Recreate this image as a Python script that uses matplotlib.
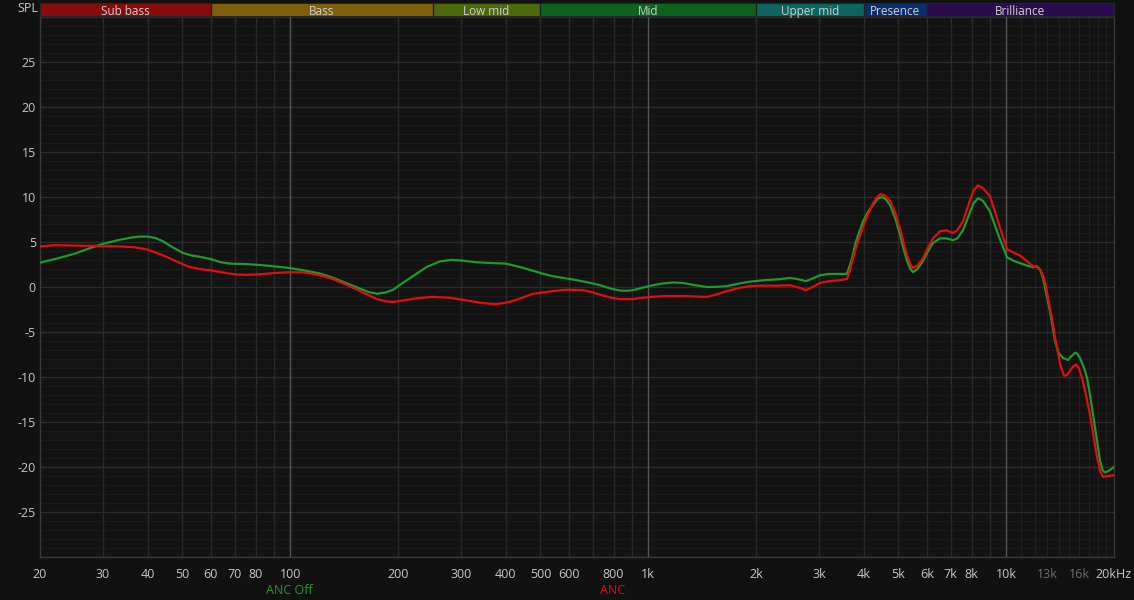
import matplotlib
matplotlib.use("Agg")
import matplotlib.pyplot as plt
import numpy as np

# ---------------- data ----------------
anc_off_freq = [20, 22.5, 25, 27.5, 30, 33, 36, 38, 40, 42, 44, 47, 50, 53, 56, 60, 64, 68, 75, 82, 90,
                100, 109, 121, 130, 140, 155, 165, 175, 185, 194, 207, 220, 240, 262, 280, 300, 330,
                370, 400, 440, 477, 510, 542, 590, 632, 690, 733, 790, 834, 870, 907, 960, 1031,
                1100, 1173, 1250, 1350, 1460, 1560, 1660, 1800, 1925, 2100, 2300, 2489, 2600, 2759,
                2880, 3018, 3200, 3433, 3590, 3700, 3800, 3981, 4120, 4246, 4370, 4487, 4600, 4737,
                4900, 5051, 5170, 5284, 5400, 5490, 5650, 5857, 6050, 6247, 6535, 6800, 7103, 7300,
                7574, 7900, 8100, 8342, 8600, 9007, 9500, 10050, 10500, 10925, 11400, 11877, 12187,
                12450, 12667, 12950, 13253, 13500, 13687, 14000, 14410, 14882, 15200, 15568, 15800,
                16075, 16500, 16816, 17145, 17477, 17900, 18284, 18600, 18881, 19400, 20000]
anc_off_db = [2.7, 3.2, 3.7, 4.3, 4.8, 5.2, 5.5, 5.6, 5.6, 5.45, 5.1, 4.4, 3.8, 3.5, 3.35, 3.1, 2.75, 2.6, 2.55, 2.45, 2.3,
              2.1, 1.85, 1.5, 1.1, 0.6, -0.1, -0.55, -0.75, -0.6, -0.3, 0.5, 1.2, 2.2, 2.85, 3.0, 2.95, 2.75,
              2.65, 2.6, 2.2, 1.8, 1.45, 1.2, 0.95, 0.75, 0.45, 0.2, -0.2, -0.4, -0.42, -0.35, -0.1, 0.2,
              0.4, 0.5, 0.45, 0.2, 0.0, 0.02, 0.1, 0.4, 0.6, 0.75, 0.85, 1.0, 0.9, 0.65,
              0.95, 1.3, 1.45, 1.45, 1.45, 3.0, 5.0, 7.3, 8.4, 9.1, 9.8, 10.0, 9.8, 9.1,
              7.6, 5.8, 4.2, 2.9, 2.0, 1.65, 2.0, 2.9, 4.0, 4.9, 5.4, 5.4, 5.2, 5.4,
              6.3, 8.2, 9.3, 9.85, 9.6, 8.4, 5.8, 3.3, 2.9, 2.65, 2.4, 2.2, 2.3,
              1.9, 1.0, -0.8, -2.7, -4.6, -6.0, -7.3, -7.9, -8.1, -7.7, -7.3, -7.4,
              -7.9, -9.0, -10.1, -12.0, -14.2, -17.0, -19.3, -20.4, -20.6, -20.4, -20.0]

anc_freq = [20, 22, 25, 30, 34, 37, 40, 43, 46, 49, 52, 56, 60, 65, 70, 76, 82, 90, 100, 110, 121, 130,
            140, 152, 164, 175, 185, 194, 210, 226, 250, 280, 312, 340, 370, 386, 410, 430, 455, 477,
            510, 542, 593, 657, 700, 733, 780, 834, 907, 960, 1011, 1130, 1251, 1360, 1460, 1560, 1660,
            1800, 1925, 2100, 2300, 2489, 2620, 2759, 2880, 3018, 3200, 3433, 3590, 3660, 3732, 3850,
            3981, 4120, 4246, 4340, 4441, 4560, 4737, 4900, 5051, 5170, 5284, 5400, 5490, 5650, 5857,
            6050, 6247, 6535, 6800, 7103, 7300, 7574, 7900, 8100, 8342, 8600, 9007, 9500, 10050, 10500,
            10925, 11400, 11877, 12187, 12450, 12667, 12900, 13083, 13400, 13687, 14000, 14136, 14503,
            14750, 15075, 15400, 15669, 15950, 16284, 16700, 17145, 17550, 17933, 18300, 18640, 19300, 20000]
anc_db = [4.5, 4.65, 4.6, 4.55, 4.5, 4.4, 4.15, 3.7, 3.2, 2.7, 2.25, 2.0, 1.85, 1.6, 1.4, 1.35, 1.4, 1.55, 1.65, 1.6, 1.3, 0.95,
          0.45, -0.2, -0.85, -1.35, -1.6, -1.65, -1.45, -1.25, -1.1, -1.2, -1.5, -1.75, -1.9, -1.85, -1.65, -1.4, -1.05, -0.75,
          -0.6, -0.45, -0.3, -0.35, -0.6, -0.85, -1.15, -1.35, -1.35, -1.2, -1.1, -1.0, -1.0, -1.05, -1.1, -0.8, -0.45,
          -0.1, 0.1, 0.15, 0.15, 0.2, -0.05, -0.35, 0.0, 0.45, 0.65, 0.75, 0.9, 1.8, 3.2, 5.0,
          6.7, 8.2, 9.3, 9.9, 10.3, 10.2, 9.6, 8.2, 6.5, 4.9, 3.5, 2.5, 2.1, 2.4, 3.2,
          4.4, 5.4, 6.2, 6.3, 6.0, 6.3, 7.3, 9.5, 10.7, 11.3, 11.0, 10.1, 7.2, 4.2, 3.8,
          3.5, 2.9, 2.3, 2.2, 1.9, 1.3, 0.2, -1.2, -3.3, -5.6, -7.6, -8.6, -9.85,
          -9.8, -9.3, -8.8, -8.6, -9.0, -10.1, -12.0, -14.2, -16.7, -18.9, -20.5, -21.1, -21.0, -20.9]

band_names = ["Sub bass", "Bass", "Low mid", "Mid", "Upper mid", "Presence", "Brilliance"]
band_edges = [20, 60, 250, 500, 2000, 4000, 6000, 20000]
band_colors = ["#8a0b0b", "#7f600a", "#4c690c", "#0c641c", "#0b6560", "#0c2d6b", "#2b0c50"]

x_ticks = [20, 30, 40, 50, 60, 70, 80, 100, 200, 300, 400, 500, 600, 800, 1000, 2000, 3000,
           4000, 5000, 6000, 7000, 8000, 10000, 13000, 16000, 20000]
x_tick_labels = ["20", "30", "40", "50", "60", "70", "80", "100", "200", "300", "400", "500", "600",
                 "800", "1k", "2k", "3k", "4k", "5k", "6k", "7k", "8k", "10k", "13k", "16k", "20kHz"]
y_ticks = [25, 20, 15, 10, 5, 0, -5, -10, -15, -20, -25]

# ---------------- style ----------------
BG = "#111111"
PLOT_BG = "#131313"
TXT = "#c8c8c8"
GREEN = "#1f9a2c"
RED = "#e00f0f"

W, H = 1134, 600
fig = plt.figure(figsize=(W / 100, H / 100), dpi=100, facecolor=BG)
L, R, T, B = 40, 1114, 17, 557
ax = fig.add_axes([L / W, 1 - B / H, (R - L) / W, (B - T) / H], facecolor=PLOT_BG)
ax.set_xscale("log")
ax.set_xlim(20, 20000)
ax.set_ylim(-30, 30)

# grid
for v in range(-30, 31):
    if v % 5 == 0:
        ax.axhline(v, color="#2c2c2c", lw=1.0, zorder=1)
    else:
        ax.axhline(v, color="#1b1b1b", lw=0.8, zorder=0.5)
minor_v = [30, 40, 50, 60, 70, 80, 90, 200, 300, 400, 500, 600, 700, 800, 900,
           2000, 3000, 4000, 5000, 6000, 7000, 8000, 9000]
for f in minor_v:
    ax.axvline(f, color="#2a2a2a", lw=1.0, zorder=1)
for f in range(11000, 20000, 1000):
    ax.axvline(f, color="#202020", lw=0.8, zorder=0.8)
for f in [100, 1000, 10000]:
    ax.axvline(f, color="#555555", lw=1.0, zorder=1.2)

ax.plot(anc_off_freq, anc_off_db, color=GREEN, lw=1.6, zorder=3, solid_capstyle="round", solid_joinstyle="round")
ax.plot(anc_freq, anc_db, color=RED, lw=1.6, zorder=4, solid_capstyle="round", solid_joinstyle="round")

for s in ax.spines.values():
    s.set_color("#3a3a3a")
    s.set_linewidth(1.0)
ax.spines["top"].set_visible(False)

ax.set_xticks(x_ticks)
ax.set_xticklabels(x_tick_labels)
ax.xaxis.set_minor_locator(matplotlib.ticker.NullLocator())
ax.set_yticks(y_ticks)
ax.set_yticklabels([str(v) for v in y_ticks])
ax.tick_params(axis="both", length=0, colors=TXT, labelsize=9)
ax.tick_params(axis="x", pad=8)
ax.tick_params(axis="y", pad=3)
for lbl in ax.get_xticklabels():
    lbl.set_color(TXT)
    lbl.set_fontfamily("Open Sans")
    if lbl.get_text() in ("13k", "16k"):
        lbl.set_color("#6e6e6e")
for lbl in ax.get_yticklabels():
    lbl.set_fontfamily("Open Sans")

# band bar
bx = fig.add_axes([L / W, 1 - 16 / H, (R - L) / W, 13 / H], facecolor=BG)
bx.set_xscale("log")
bx.set_xlim(20, 20000)
bx.set_ylim(0, 1)
for i, name in enumerate(band_names):
    lo, hi = band_edges[i], band_edges[i + 1]
    bx.axvspan(lo, hi, color=band_colors[i], lw=0)
    bx.axvline(lo, color="#202020", lw=1.0)
    bx.text(np.sqrt(lo * hi), 0.36, name, ha="center", va="center", color="#d0d0d0",
            fontsize=8.5, family="Open Sans")
bx.set_xticks([])
bx.set_yticks([])
bx.xaxis.set_minor_locator(matplotlib.ticker.NullLocator())
for s in bx.spines.values():
    s.set_color("#262626")
    s.set_linewidth(0.8)

fig.text(38 / W, 1 - 8 / H, "SPL", ha="right", va="center", color=TXT, fontsize=9, family="Open Sans")
fig.text(289 / W, 1 - 590 / H, "ANC Off", ha="center", va="center", color=GREEN, fontsize=9, family="Open Sans")
fig.text(613 / W, 1 - 590 / H, "ANC", ha="center", va="center", color="#d81010", fontsize=9, family="Open Sans")

fig.savefig("out.png", dpi=100, facecolor=BG)
